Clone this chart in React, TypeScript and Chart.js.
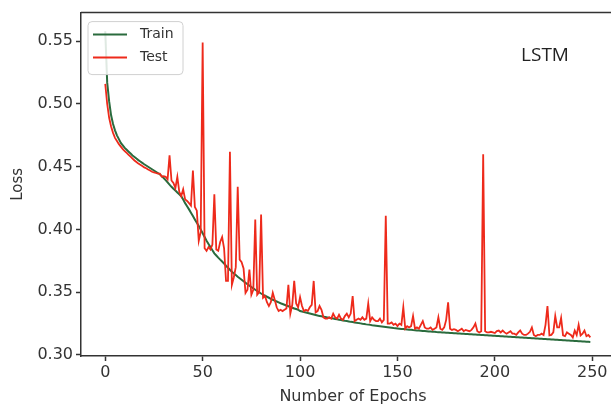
import React, { useEffect, useRef } from "react";
import { Chart, registerables } from "chart.js";

Chart.register(...registerables);

// Loss per epoch (epoch index = array position)
const trainLoss = [
  0.558, 0.517, 0.502, 0.491, 0.484, 0.479, 0.475, 0.472, 0.469, 0.467,
  0.465, 0.4635, 0.462, 0.4605, 0.459, 0.4578, 0.4565, 0.4553, 0.4542, 0.4531,
  0.452, 0.451, 0.45, 0.449, 0.448, 0.447, 0.446, 0.445, 0.444, 0.4425,
  0.441, 0.4393, 0.4375, 0.4357, 0.434, 0.4325, 0.431, 0.4295, 0.428, 0.4265,
  0.4238, 0.421, 0.4185, 0.416, 0.4134, 0.4108, 0.408, 0.4053, 0.4027, 0.4,
  0.397, 0.394, 0.391, 0.3885, 0.386, 0.3835, 0.381, 0.3793, 0.3776, 0.376,
  0.3745, 0.3728, 0.3711, 0.3695, 0.3679, 0.3664, 0.365, 0.3637, 0.3624, 0.3612,
  0.36, 0.3588, 0.3576, 0.3564, 0.3553, 0.3542, 0.3531, 0.352, 0.351, 0.35,
  0.349, 0.3481, 0.3472, 0.3464, 0.3456, 0.3448, 0.344, 0.3433, 0.3426, 0.3419,
  0.3412, 0.3406, 0.34, 0.3394, 0.3388, 0.3382, 0.3376, 0.3371, 0.3366, 0.3361,
  0.335, 0.3346, 0.3342, 0.3338, 0.3334, 0.333, 0.3326, 0.3322, 0.3318, 0.3314,
  0.3311, 0.3308, 0.3305, 0.3302, 0.3299, 0.3296, 0.3293, 0.329, 0.3287, 0.3284,
  0.3281, 0.3278, 0.3275, 0.3272, 0.327, 0.3267, 0.3264, 0.3262, 0.3259, 0.3257,
  0.3254, 0.3252, 0.3249, 0.3247, 0.3244, 0.3242, 0.324, 0.3237, 0.3235, 0.3233,
  0.3231, 0.3229, 0.3227, 0.3225, 0.3223, 0.3221, 0.3219, 0.3217, 0.3215, 0.3214,
  0.3212, 0.321, 0.3208, 0.3207, 0.3205, 0.3204, 0.3202, 0.3201, 0.3199, 0.3198,
  0.3196, 0.3195, 0.3194, 0.3192, 0.3191, 0.319, 0.3188, 0.3187, 0.3186, 0.3185,
  0.3183, 0.3182, 0.3181, 0.318, 0.3179, 0.3178, 0.3177, 0.3176, 0.3175, 0.3174,
  0.3173, 0.3172, 0.3171, 0.317, 0.3169, 0.3168, 0.3167, 0.3166, 0.3165, 0.3164,
  0.3163, 0.3162, 0.3161, 0.316, 0.3159, 0.3158, 0.3157, 0.3156, 0.3155, 0.3154,
  0.3153, 0.3152, 0.3151, 0.315, 0.3149, 0.3148, 0.3147, 0.3146, 0.3145, 0.3144,
  0.3143, 0.3142, 0.3141, 0.314, 0.3139, 0.3138, 0.3137, 0.3136, 0.3135, 0.3134,
  0.3133, 0.3132, 0.3131, 0.313, 0.3129, 0.3128, 0.3127, 0.3126, 0.3125, 0.3124,
  0.3123, 0.3122, 0.3121, 0.312, 0.3119, 0.3118, 0.3117, 0.3116, 0.3115, 0.3114,
  0.3113, 0.3112, 0.3111, 0.311, 0.3109, 0.3108, 0.3107, 0.3106, 0.3105, 0.3104,
];

const testLoss = [
  0.516, 0.5, 0.489, 0.482, 0.477, 0.473, 0.4705, 0.468, 0.466, 0.464,
  0.4625, 0.461, 0.4595, 0.458, 0.4565, 0.455, 0.4538, 0.4525, 0.4515, 0.4505,
  0.4495, 0.4488, 0.4478, 0.447, 0.446, 0.4455, 0.445, 0.4445, 0.4445, 0.442,
  0.4425, 0.442, 0.44, 0.459, 0.439, 0.437, 0.433, 0.442, 0.43, 0.4266,
  0.432, 0.424, 0.4227, 0.421, 0.419, 0.447, 0.418, 0.415, 0.391, 0.398,
  0.549, 0.385, 0.383, 0.386, 0.384, 0.388, 0.428, 0.384, 0.383, 0.39,
  0.394, 0.385, 0.359, 0.359, 0.462, 0.356, 0.362, 0.37, 0.434, 0.376,
  0.374, 0.369, 0.3495, 0.352, 0.368, 0.348, 0.352, 0.408, 0.348, 0.35,
  0.412, 0.3456, 0.347, 0.342, 0.339, 0.342, 0.3495, 0.344, 0.338, 0.335,
  0.336, 0.335, 0.336, 0.337, 0.356, 0.333, 0.34, 0.359, 0.341, 0.338,
  0.346, 0.339, 0.335, 0.336, 0.335, 0.338, 0.34, 0.359, 0.334, 0.335,
  0.339, 0.336, 0.33, 0.329, 0.329, 0.33, 0.329, 0.333, 0.33, 0.329,
  0.332, 0.329, 0.328, 0.331, 0.333, 0.33, 0.333, 0.347, 0.327, 0.328,
  0.329, 0.328, 0.33, 0.328, 0.329, 0.341, 0.327, 0.33, 0.328, 0.327,
  0.327, 0.329, 0.326, 0.328, 0.411, 0.325, 0.325, 0.326, 0.324, 0.325,
  0.323, 0.325, 0.324, 0.338, 0.321, 0.323, 0.322, 0.323, 0.331, 0.321,
  0.322, 0.321, 0.324, 0.327, 0.322, 0.321, 0.321, 0.322, 0.32, 0.321,
  0.322, 0.33, 0.321, 0.32, 0.322, 0.328, 0.342, 0.321, 0.32, 0.3205,
  0.32, 0.319, 0.32, 0.321, 0.319, 0.32, 0.3195, 0.319, 0.32, 0.322,
  0.325, 0.319, 0.318, 0.319, 0.46, 0.319, 0.318, 0.318, 0.3185, 0.318,
  0.3175, 0.319, 0.3195, 0.318, 0.3195, 0.318, 0.317, 0.318, 0.319, 0.317,
  0.317, 0.316, 0.318, 0.3195, 0.317, 0.316, 0.316, 0.317, 0.3185, 0.322,
  0.316, 0.315, 0.316, 0.316, 0.317, 0.316, 0.324, 0.339, 0.3156, 0.316,
  0.318, 0.331, 0.322, 0.322, 0.3295, 0.3156, 0.315, 0.318, 0.317, 0.316,
  0.314, 0.3195, 0.316, 0.324, 0.3156, 0.317, 0.3195, 0.315, 0.316, 0.314,
];

const seriesNames = ["Train", "Test"];
const seriesColors = ["#2a6b3d", "#ee2a1b"];
const xTicks = [0, 50, 100, 150, 200, 250];
const yTicks = [0.3, 0.35, 0.4, 0.45, 0.5, 0.55];
const xTitle = "Number of Epochs";
const yTitle = "Loss";
const modelName = "LSTM";

const FONT = "'DejaVu Sans', sans-serif";
const INK = "#333333";

export default function App() {
  const ref = useRef<HTMLCanvasElement>(null);

  useEffect(() => {
    if (!ref.current) return;

    const decorations = {
      id: "decorations",
      afterDraw(chart: any) {
        const { ctx, chartArea: a } = chart;
        ctx.save();
        // top spine
        ctx.strokeStyle = INK;
        ctx.lineWidth = 1.5;
        ctx.beginPath();
        ctx.moveTo(a.left, a.top);
        ctx.lineTo(a.right, a.top);
        ctx.stroke();

        // legend box
        const bx = a.left + 7;
        const by = a.top + 9;
        const bw = 95;
        const bh = 53;
        ctx.fillStyle = "rgba(255,255,255,0.85)";
        ctx.strokeStyle = "#d0d0d0";
        ctx.lineWidth = 1;
        ctx.beginPath();
        (ctx as any).roundRect(bx, by, bw, bh, 4);
        ctx.fill();
        ctx.stroke();
        chart.data.datasets.forEach((ds: any, i: number) => {
          const ly = by + 13 + i * 23;
          ctx.strokeStyle = ds.borderColor;
          ctx.lineWidth = 2;
          ctx.beginPath();
          ctx.moveTo(bx + 5, ly);
          ctx.lineTo(bx + 39, ly);
          ctx.stroke();
          ctx.fillStyle = INK;
          ctx.font = `14px ${FONT}`;
          ctx.textBaseline = "middle";
          ctx.textAlign = "left";
          ctx.fillText(ds.label, bx + 52, ly);
        });

        // model name
        ctx.fillStyle = "#222";
        ctx.font = "19px 'Open Sans', sans-serif";
        ctx.textAlign = "center";
        ctx.textBaseline = "middle";
        ctx.fillText(modelName, 545, a.top + a.height * 0.126);
        ctx.restore();
      },
    };

    const chart = new Chart(ref.current, {
      type: "line",
      data: {
        datasets: [
          {
            label: seriesNames[0],
            data: trainLoss.map((y, i) => ({ x: i, y })),
            borderColor: seriesColors[0],
            borderWidth: 2,
            pointRadius: 0,
            tension: 0,
            order: 1,
          },
          {
            label: seriesNames[1],
            data: testLoss.map((y, i) => ({ x: i, y })),
            borderColor: seriesColors[1],
            borderWidth: 1.8,
            pointRadius: 0,
            tension: 0,
            order: 0,
          },
        ],
      },
      options: {
        responsive: false,
        animation: false,
        layout: { padding: { top: 8, right: 0, left: 0, bottom: 0 } },
        plugins: { legend: { display: false }, tooltip: { enabled: false } },
        scales: {
          x: {
            type: "linear",
            min: -12.45,
            max: 266.8,
            afterBuildTicks: (s: any) => {
              s.ticks = xTicks.map((v) => ({ value: v }));
            },
            afterFit: (s: any) => {
              s.height = 54;
            },
            ticks: {
              color: INK,
              font: { family: FONT, size: 16 },
              padding: 2,
              maxRotation: 0,
              callback: (v: any) => String(v),
            },
            grid: {
              display: true,
              drawOnChartArea: false,
              drawTicks: true,
              tickLength: 5,
              tickColor: INK,
              tickWidth: 1.5,
            },
            border: { display: true, color: INK, width: 1.5 },
            title: {
              display: true,
              text: xTitle,
              color: INK,
              font: { family: FONT, size: 16 },
              padding: { top: 4, bottom: 4 },
            },
          },
          y: {
            type: "linear",
            min: 0.2992,
            max: 0.5728,
            afterBuildTicks: (s: any) => {
              s.ticks = yTicks.map((v) => ({ value: v }));
            },
            afterFit: (s: any) => {
              s.width = 81;
            },
            ticks: {
              color: INK,
              font: { family: FONT, size: 16 },
              padding: 3,
              callback: (v: any) => Number(v).toFixed(2),
            },
            grid: {
              display: true,
              drawOnChartArea: false,
              drawTicks: true,
              tickLength: 5,
              tickColor: INK,
              tickWidth: 1.5,
            },
            border: { display: true, color: INK, width: 1.5 },
            title: {
              display: true,
              text: yTitle,
              color: INK,
              font: { family: FONT, size: 15 },
              padding: { top: 9, bottom: 9 },
            },
          },
        },
      },
      plugins: [decorations],
    });

    return () => chart.destroy();
  }, []);

  return (
    <div
      style={{
        position: "absolute",
        left: 0,
        top: 0,
        width: 611,
        height: 410,
        overflow: "hidden",
        background: "#fff",
      }}
    >
      <canvas ref={ref} width={625} height={410} style={{ display: "block" }} />
    </div>
  );
}
